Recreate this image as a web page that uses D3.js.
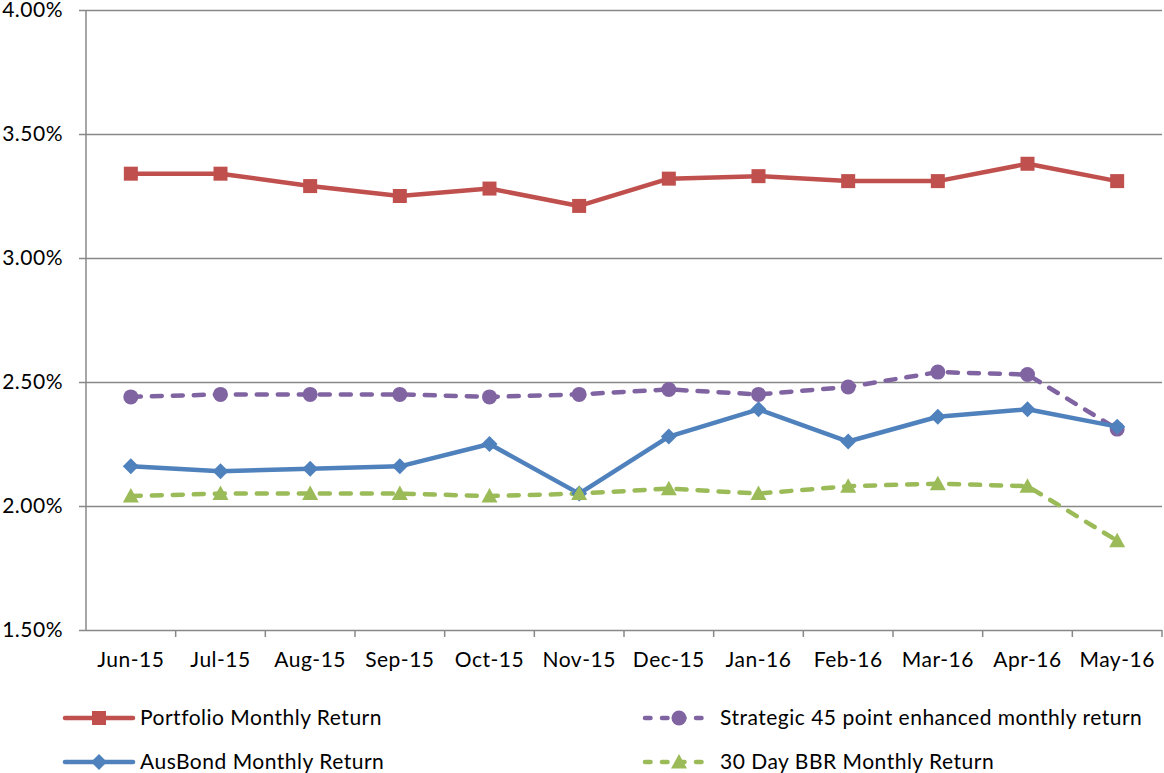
<!DOCTYPE html>
<html>
<head>
<meta charset="utf-8">
<script src="https://cdn.jsdelivr.net/npm/d3@7"></script>
<style>
  body { margin: 0; background: #fff; }
  svg text { font-family: Lato, "Open Sans", sans-serif; fill: #000; letter-spacing: 0.5px; }
</style>
</head>
<body>
<div id="chart"></div>
<script>
// months along the x axis
const months = ["Jun-15", "Jul-15", "Aug-15", "Sep-15", "Oct-15", "Nov-15",
                "Dec-15", "Jan-16", "Feb-16", "Mar-16", "Apr-16", "May-16"];

// monthly returns, in percent
const portfolio = [3.34, 3.34, 3.29, 3.25, 3.28, 3.21, 3.32, 3.33, 3.31, 3.31, 3.38, 3.31];
const strategic = [2.44, 2.45, 2.45, 2.45, 2.44, 2.45, 2.47, 2.45, 2.48, 2.54, 2.53, 2.31];
const ausbond   = [2.16, 2.14, 2.15, 2.16, 2.25, 2.05, 2.28, 2.39, 2.26, 2.36, 2.39, 2.32];
const bbr       = [2.04, 2.05, 2.05, 2.05, 2.04, 2.05, 2.07, 2.05, 2.08, 2.09, 2.08, 1.86];

const yTicks = [1.5, 2.0, 2.5, 3.0, 3.5, 4.0];

const series = [
  {name: "Portfolio Monthly Return", values: portfolio, color: "#C0504D", dash: null, marker: "square"},
  {name: "Strategic 45 point enhanced monthly return", values: strategic, color: "#8064A2", dash: "10,11", marker: "circle"},
  {name: "AusBond Monthly Return", values: ausbond, color: "#4F81BD", dash: null, marker: "diamond"},
  {name: "30 Day BBR Monthly Return", values: bbr, color: "#9BBB59", dash: "10,11", marker: "triangle"}
];

const W = 1164, H = 773;
const margin = {top: 10, right: 2, bottom: 143, left: 86};
const width = W - margin.left - margin.right;
const height = H - margin.top - margin.bottom;
const fs = 21;

const svg = d3.select("#chart").append("svg")
  .attr("width", W).attr("height", H);
const g = svg.append("g")
  .attr("transform", `translate(${margin.left},${margin.top})`);

const x = d3.scaleBand().domain(months).range([0, width]);
const y = d3.scaleLinear().domain([1.5, 4.0]).range([height, 0]);

// gridlines + y labels
const yAxis = g.append("g")
  .call(d3.axisLeft(y).tickValues(yTicks).tickSize(-width)
    .tickFormat(d => d.toFixed(2) + "%"));
yAxis.select(".domain").remove();
yAxis.selectAll(".tick line").attr("stroke", "#888").attr("stroke-width", 1.5)
  .attr("x1", -7);
yAxis.selectAll(".tick text").attr("font-size", fs).attr("x", -23);

// y axis line
g.append("line").attr("x1", 0).attr("x2", 0).attr("y1", 0).attr("y2", height)
  .attr("stroke", "#888").attr("stroke-width", 1.5);

// x axis, tick marks sit on the band boundaries
const xAxis = g.append("g").attr("transform", `translate(0,${height})`)
  .call(d3.axisBottom(x).tickSize(0).tickPadding(22));
xAxis.select(".domain").remove();
xAxis.selectAll(".tick text").attr("font-size", fs);
g.append("g").attr("transform", `translate(0,${height})`)
  .selectAll("line").data(months)
  .join("line")
  .attr("x1", d => x(d) + x.step())
  .attr("x2", d => x(d) + x.step())
  .attr("y1", 0).attr("y2", 7)
  .attr("stroke", "#888").attr("stroke-width", 1.5);

const cx = d => x(d) + x.bandwidth() / 2;

function drawMarker(sel, type, color) {
  if (type === "square") {
    sel.append("rect").attr("x", -7).attr("y", -7).attr("width", 14).attr("height", 14).attr("fill", color);
  } else if (type === "circle") {
    sel.append("circle").attr("r", 7.5).attr("fill", color);
  } else if (type === "diamond") {
    sel.append("path").attr("d", "M0,-8L8,0L0,8L-8,0Z").attr("fill", color);
  } else {
    sel.append("path").attr("d", "M0,-8L8,6.5L-8,6.5Z").attr("fill", color);
  }
}

const line = d3.line().x((d, i) => cx(months[i])).y(d => y(d));

// lines first
series.forEach(s => {
  g.append("path").datum(s.values)
    .attr("d", line)
    .attr("fill", "none")
    .attr("stroke", s.color)
    .attr("stroke-width", 4.5)
    .attr("stroke-linejoin", "round")
    .attr("stroke-linecap", "round")
    .attr("stroke-dasharray", s.dash);
});

// markers
series.forEach(s => {
  g.append("g").selectAll("g").data(s.values).join("g")
    .attr("transform", (d, i) => `translate(${cx(months[i])},${y(d)})`)
    .each(function () { drawMarker(d3.select(this), s.marker, s.color); });
});

// legend
const legendPos = [
  {x: 65, y: 718}, {x: 645, y: 718}, {x: 65, y: 762}, {x: 645, y: 762}
];
series.forEach((s, i) => {
  const p = legendPos[i];
  const lg = svg.append("g").attr("transform", `translate(${p.x},${p.y})`);
  lg.append("line").attr("x1", 0).attr("x2", 68).attr("y1", 0).attr("y2", 0)
    .attr("stroke", s.color).attr("stroke-width", 4.5)
    .attr("stroke-linecap", "round")
    .attr("stroke-dasharray", s.dash ? "5.5,11.5" : null);
  const m = lg.append("g").attr("transform", "translate(34,0)");
  drawMarker(m, s.marker, s.color);
  lg.append("text").attr("x", 75).attr("y", 0).attr("dy", "0.35em")
    .attr("font-size", fs).text(s.name);
});
</script>
</body>
</html>
